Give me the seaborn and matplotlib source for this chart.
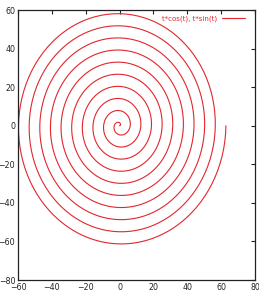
import numpy as np
import pandas as pd
import matplotlib
matplotlib.use("Agg")
import matplotlib.pyplot as plt
import seaborn as sns

# Curve definition (as given by the legend): x = t*cos(t), y = t*sin(t)
series_label = "t*cos(t), t*sin(t)"
t_start = 0.0
t_end = 20 * np.pi
n_samples = 2000

x_ticks = [-60, -40, -20, 0, 20, 40, 60, 80]
y_ticks = [-80, -60, -40, -20, 0, 20, 40, 60]
x_limits = (-60, 80)
y_limits = (-80, 60)

t = np.linspace(t_start, t_end, n_samples)
df = pd.DataFrame({"t": t, "x": t * np.cos(t), "y": t * np.sin(t)})

sns.set_style("white")
plt.rcParams["font.family"] = ["DejaVu Sans"]

fig = plt.figure(figsize=(2.59, 2.96), dpi=100)
ax = fig.add_axes([0.0695, 0.054, 0.915, 0.912])

sns.lineplot(data=df, x="x", y="y", sort=False, estimator=None, ax=ax,
             color="#e3262e", linewidth=0.8, label=series_label)

ax.set_xlim(*x_limits)
ax.set_ylim(*y_limits)
ax.set_xticks(x_ticks)
ax.set_yticks(y_ticks)
ax.set_xlabel("")
ax.set_ylabel("")
ax.tick_params(axis="both", which="both", direction="in", length=3, width=0.8,
               top=True, right=True, labelsize=5.7, colors="#222222", pad=2)
for s in ax.spines.values():
    s.set_color("#222222")
    s.set_linewidth(0.9)

leg = ax.legend(loc="upper right", bbox_to_anchor=(0.97, 0.992), frameon=False,
                markerfirst=False, fontsize=5.0, labelcolor="#e3262e",
                handlelength=3.3, borderaxespad=0.0, handletextpad=0.8)

fig.savefig("out.png", dpi=100)
